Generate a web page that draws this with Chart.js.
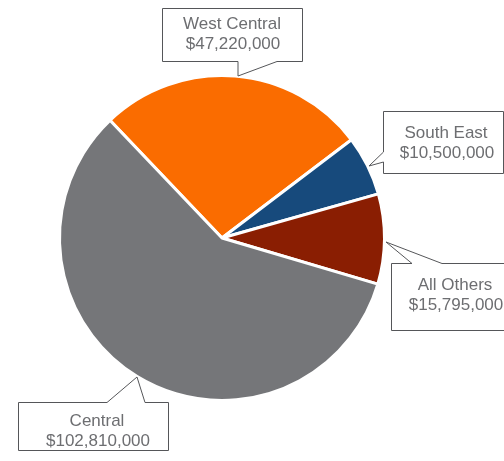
<!DOCTYPE html>
<html>
<head>
<meta charset="utf-8">
<script src="https://cdn.jsdelivr.net/npm/chart.js@4.4.0/dist/chart.umd.min.js"></script>
<style>
html,body{margin:0;padding:0;background:#fff;}
#wrap{width:504px;height:461px;position:relative;}
</style>
</head>
<body>
<div id="wrap"><canvas id="pieChart" width="504" height="461"></canvas></div>
<script>
/* DATA */

const regions = ["West Central", "South East", "All Others", "Central"];

const amounts = [47220000, 10500000, 15795000, 102810000];

const sliceColors = ["#fa6c00", "#174a7c", "#8a1e02", "#757679"];

/* CALLOUT LAYOUT (box, tail base a/b, tip, text centre) */

const callouts = [
{ x:162, y:8, w:140, h:53, side:"bottom", a:238, b:277, tip:[238,76], tx:232, ty:24 },
{ x:383, y:111, w:120, h:62, side:"left", a:152, b:162, tip:[369,166], tx:446, ty:133 },
{ x:391, y:263, w:130, h:67, side:"top", a:412, b:442, tip:[386,242], tx:455, ty:285 },
{ x:18, y:402, w:150, h:48, side:"top", a:107, b:145, tip:[137,377], tx:97, ty:421 }
];

function money(v){
return "$" + v.toLocaleString("en-US");
}

/* CALLOUT PLUGIN */

const calloutPlugin = {
id:"callouts",
afterDraw(chart){
const c = chart.ctx;
c.save();
c.lineWidth = 1;
callouts.forEach((o, i) => {
const x = o.x + 0.5, y = o.y + 0.5, r = x + o.w, btm = y + o.h;
c.beginPath();
if(o.side === "bottom"){
c.moveTo(x, y); c.lineTo(r, y); c.lineTo(r, btm);
c.lineTo(o.b, btm); c.lineTo(o.tip[0], o.tip[1]); c.lineTo(o.a, btm);
c.lineTo(x, btm); c.closePath();
} else if(o.side === "left"){
c.moveTo(x, y); c.lineTo(r, y); c.lineTo(r, btm); c.lineTo(x, btm);
c.lineTo(x, o.b); c.lineTo(o.tip[0], o.tip[1]); c.lineTo(x, o.a);
c.closePath();
} else {
c.moveTo(x, y); c.lineTo(o.a, y); c.lineTo(o.tip[0], o.tip[1]);
c.lineTo(o.b, y); c.lineTo(r, y); c.lineTo(r, btm); c.lineTo(x, btm);
c.closePath();
}
c.fillStyle = "#ffffff";
c.strokeStyle = "#555659";
c.fill();
c.stroke();

/* TEXT */
c.fillStyle = "#6d6e71";
c.font = "17px 'Liberation Sans', Arial, sans-serif";
c.textAlign = "center";
c.textBaseline = "middle";
c.fillText(regions[i], o.tx, o.ty);
c.fillText(money(amounts[i]), o.tx + 1, o.ty + 20);
});
c.restore();
}
};

/* CHART SETUP */

const ctx =
document.getElementById("pieChart");

const chart = new Chart(ctx, {

type:"pie",

data:{
labels:regions,
datasets:[
{
data:amounts,
backgroundColor:sliceColors,
borderColor:"#ffffff",
borderWidth:3
}
]
},

options:{
responsive:false,
animation:false,
rotation:-43.6,
layout:{
padding:{ left:58, right:118, top:74, bottom:59 }
},
plugins:{
legend:{ display:false },
tooltip:{ enabled:false }
}
},

plugins:[calloutPlugin]

});
</script>
</body>
</html>
